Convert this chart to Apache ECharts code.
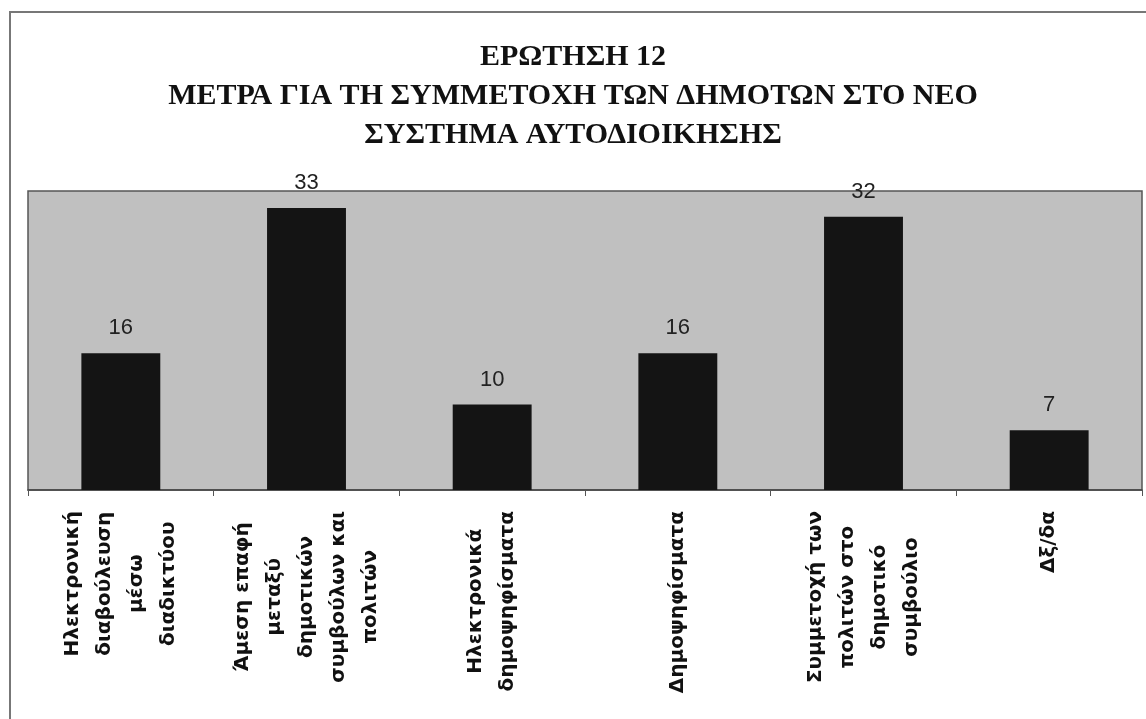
<!DOCTYPE html>
<html>
<head>
<meta charset="utf-8">
<script src="https://cdn.jsdelivr.net/npm/echarts@6/dist/echarts.min.js"></script>
<style>
  html, body { margin: 0; padding: 0; background: #fff; }
  #chart { width: 1146px; height: 719px; }
</style>
</head>
<body>
<div id="chart"></div>
<script>
const titleLines = [
  'ΕΡΩΤΗΣΗ 12',
  'ΜΕΤΡΑ ΓΙΑ ΤΗ ΣΥΜΜΕΤΟΧΗ ΤΩΝ ΔΗΜΟΤΩΝ ΣΤΟ ΝΕΟ',
  'ΣΥΣΤΗΜΑ ΑΥΤΟΔΙΟΙΚΗΣΗΣ'
]

// each category label already split into the lines it shows
const categories = [
  ['Ηλεκτρονική', 'διαβούλευση', 'μέσω', 'διαδικτύου'],
  ['Άμεση επαφή', 'μεταξύ', 'δημοτικών', 'συμβούλων και', 'πολιτών'],
  ['Ηλεκτρονικά', 'δημοψηφίσματα'],
  ['Δημοψηφίσματα'],
  ['Συμμετοχή των', 'πολιτών στο', 'δημοτικό', 'συμβούλιο'],
  ['Δξ/δα']
]

const values = [16, 33, 10, 16, 32, 7]

const chart = echarts.init(document.getElementById('chart'))

const option = {
  backgroundColor: '#fff',
  animation: false,
  title: {
    text: titleLines.join('\n'),
    left: 'center',
    top: 33,
    textStyle: {
      fontFamily: 'Liberation Serif',
      fontWeight: 'bold',
      fontSize: 30,
      lineHeight: 39,
      color: '#111'
    }
  },
  graphic: [
    {
      type: 'rect',
      silent: true,
      shape: { x: 10, y: 12, width: 1150, height: 720 },
      style: { fill: 'none', stroke: '#777', lineWidth: 2 }
    }
  ],
  grid: {
    left: 28,
    right: 4,
    top: 191,
    bottom: 229,
    show: true,
    backgroundColor: '#c0c0c0',
    borderColor: '#555',
    borderWidth: 1.5
  },
  xAxis: {
    type: 'category',
    data: categories.map(c => c.join('\n')),
    axisLine: { lineStyle: { color: '#444', width: 1.5 } },
    axisTick: { show: true, length: 6, lineStyle: { color: '#555' } },
    axisLabel: {
      interval: 0,
      rotate: 90,
      margin: 21,
      formatter: v => v.split('\n').map(s => '{c|' + s + '}').join('\n'),
      rich: {
        c: {
          align: 'center',
          fontFamily: 'DejaVu Sans',
          fontWeight: 'bold',
          fontSize: 20,
          lineHeight: 32,
          color: '#111'
        }
      }
    }
  },
  yAxis: {
    type: 'value',
    min: 0,
    max: 35,
    show: false,
    splitLine: { show: false }
  },
  series: [
    {
      type: 'bar',
      data: values,
      barWidth: '42.5%',
      itemStyle: { color: '#141414' },
      label: {
        show: true,
        position: 'top',
        distance: 14,
        fontFamily: 'Liberation Sans',
        fontSize: 22,
        color: '#222'
      }
    }
  ]
}

chart.setOption(option)
</script>
</body>
</html>
